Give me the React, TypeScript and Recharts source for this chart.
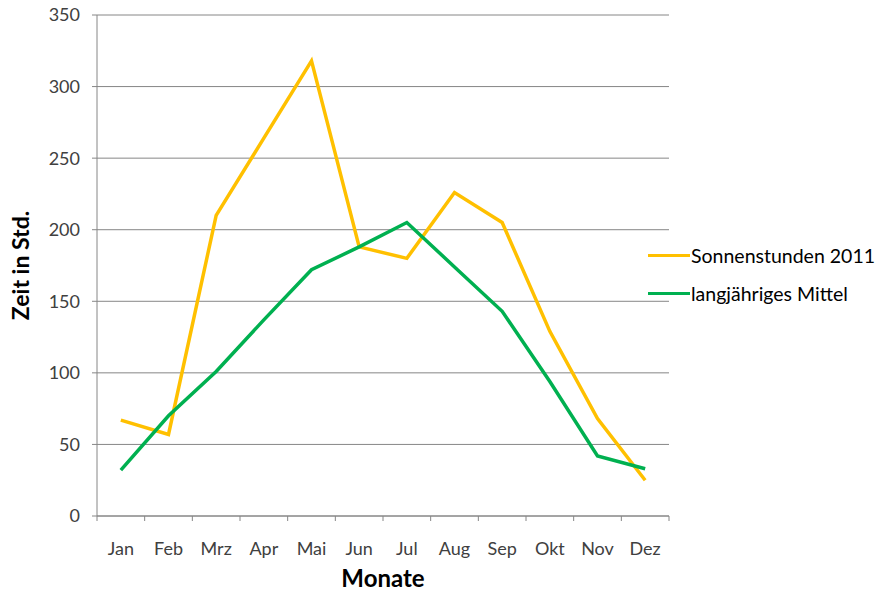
import React from "react";
import { LineChart, Line, XAxis, YAxis, CartesianGrid } from "recharts";

const months = ["Jan", "Feb", "Mrz", "Apr", "Mai", "Jun", "Jul", "Aug", "Sep", "Okt", "Nov", "Dez"];
const sonnenstunden2011 = [67, 57, 210, 264, 318, 188, 180, 226, 205, 129, 68, 25];
const langjaehrigesMittel = [32, 70, 101, 137, 172, 188, 205, 174, 143, 94, 42, 33];
const yTicks = [0, 50, 100, 150, 200, 250, 300, 350];
const seriesNames = ["Sonnenstunden 2011", "langjähriges Mittel"];
const seriesColors = ["#FFC000", "#00B050"];

const data = months.map((m, i) => ({
  month: m,
  sonne: sonnenstunden2011[i],
  mittel: langjaehrigesMittel[i],
}));

const W = 877;
const H = 593;
const M = { top: 15, right: 208, bottom: 0, left: 0 };
const XH = 77;
const YW = 97;
const FONT = "Lato, 'Noto Sans', sans-serif";
const plotW = W - M.left - M.right - YW;
const band = plotW / months.length;

const XTick = (props: any) => {
  const { x, payload, index } = props;
  const ay = 516;
  return (
    <g>
      <line x1={x - band / 2} x2={x - band / 2} y1={ay} y2={ay + 5} stroke="#868686" />
      {index === months.length - 1 && (
        <line x1={x + band / 2} x2={x + band / 2} y1={ay} y2={ay + 5} stroke="#868686" />
      )}
      <text x={x} y={ay + 39} textAnchor="middle" fontSize={18} fill="#404040" fontFamily={FONT}>
        {payload.value}
      </text>
    </g>
  );
};

export default function App() {
  return (
    <div style={{ position: "absolute", left: 0, top: 0, width: W, height: H, background: "#fff" }}>
      <LineChart width={W} height={H} data={data} margin={M}>
        <CartesianGrid vertical={false} stroke="#868686" strokeWidth={1} />
        <XAxis
          dataKey="month"
          scale="band"
          height={XH}
          axisLine={{ stroke: "#868686" }}
          tickLine={false}
          tick={<XTick />}
          interval={0}
          label={{ value: "Monate", position: "insideBottom", offset: 6, style: { fontSize: 24, fontWeight: "bold", fill: "#000", fontFamily: FONT } }}
        />
        <YAxis
          width={YW}
          domain={[0, 350]}
          ticks={yTicks}
          interval={0}
          axisLine={{ stroke: "#868686" }}
          tickLine={{ stroke: "#868686" }}
          tickSize={5}
          tickMargin={12}
          tick={{ fontSize: 18, fill: "#404040", fontFamily: FONT }}
          label={{ value: "Zeit in Std.", angle: -90, position: "insideLeft", offset: 21, style: { textAnchor: "middle", fontSize: 23, fontWeight: "bold", fill: "#000", fontFamily: FONT } }}
        />
        <Line dataKey="sonne" name={seriesNames[0]} stroke={seriesColors[0]} strokeWidth={3.5} dot={false} isAnimationActive={false} />
        <Line dataKey="mittel" name={seriesNames[1]} stroke={seriesColors[1]} strokeWidth={3.5} dot={false} isAnimationActive={false} />
      </LineChart>
      <div style={{ position: "absolute", left: 648, top: 236, fontFamily: FONT, fontSize: 19.5, color: "#000", whiteSpace: "nowrap" }}>
        {seriesNames.map((t, i) => (
          <div key={t} style={{ display: "flex", alignItems: "center", height: 38 }}>
            <div style={{ width: 42, height: 3, background: seriesColors[i], marginRight: 1 }} />
            <span>{t}</span>
          </div>
        ))}
      </div>
    </div>
  );
}
